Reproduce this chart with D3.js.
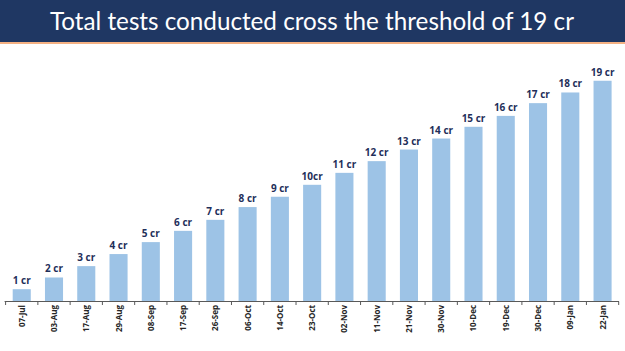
<!DOCTYPE html>
<html lang="en">
<head>
    <meta charset="UTF-8">
    <title>Total tests conducted</title>
    <script src="https://d3js.org/d3.v7.min.js"></script>
    <style>
        body { margin: 0; background: #fff; }
    </style>
</head>
<body>
    <svg id="chart" width="625" height="351"></svg>
    <script>
        const dates = ["07-Jul", "03-Aug", "17-Aug", "29-Aug", "08-Sep", "17-Sep", "26-Sep", "06-Oct", "14-Oct", "23-Oct",
                       "02-Nov", "11-Nov", "21-Nov", "30-Nov", "10-Dec", "19-Dec", "30-Dec", "09-Jan", "22-Jan"];
        const tests = [1.06, 2.07, 3.05, 4.09, 5.12, 6.09, 7.04, 8.14, 9.03, 10.06,
                       11.09, 12.1, 13.1, 14.05, 15.06, 16.0, 17.1, 18.02, 19.03];
        const labels = ["1 cr", "2 cr", "3 cr", "4 cr", "5 cr", "6 cr", "7 cr", "8 cr", "9 cr", "10cr",
                        "11 cr", "12 cr", "13 cr", "14 cr", "15 cr", "16 cr", "17 cr", "18 cr", "19 cr"];
        const title = "Total tests conducted cross the threshold of 19 cr";

        const svg = d3.select("#chart");
        const width = +svg.attr("width");

        // header band
        svg.append("rect")
            .attr("x", 0).attr("y", 0)
            .attr("width", width).attr("height", 42)
            .attr("fill", "#1f3763");
        svg.append("rect")
            .attr("x", 0).attr("y", 42)
            .attr("width", width).attr("height", 2)
            .attr("fill", "#f4b183");

        const t = svg.append("text")
            .attr("x", 312)
            .attr("y", 30)
            .attr("text-anchor", "middle")
            .attr("fill", "#ffffff")
            .style("font-family", "Lato, 'Open Sans', sans-serif")
            .style("font-size", "26px")
            .text(title);
        // fit title to the width seen in the slide
        const tw = t.node().getComputedTextLength();
        t.style("font-size", (26 * 524 / tw).toFixed(2) + "px");

        const data = dates.map((d, i) => ({date: d, value: tests[i], label: labels[i]}));

        const x = d3.scaleBand()
            .domain(dates)
            .range([5.6, 618.7])
            .paddingInner(0.44)
            .paddingOuter(0.22);

        const y = d3.scaleLinear()
            .domain([0, 19])
            .range([301.5, 81.1]);

        svg.append("g")
            .selectAll("rect")
            .data(data)
            .join("rect")
                .attr("x", d => x(d.date))
                .attr("y", d => y(d.value))
                .attr("width", x.bandwidth())
                .attr("height", d => y(0) - y(d.value))
                .attr("fill", "#9dc3e6");

        svg.append("g")
            .selectAll("text")
            .data(data)
            .join("text")
                .attr("x", d => x(d.date) + x.bandwidth() / 2)
                .attr("y", d => y(d.value) - 5)
                .attr("text-anchor", "middle")
                .attr("fill", "#1f2f5a")
                .style("font-family", "'Open Sans', sans-serif")
                .style("font-weight", "bold")
                .style("font-size", "10px")
                .text(d => d.label);

        // axis line and ticks between categories
        const axis = svg.append("g");
        axis.append("line")
            .attr("x1", 4.6).attr("x2", 619)
            .attr("y1", 301.5).attr("y2", 301.5)
            .attr("stroke", "#595959")
            .attr("stroke-width", 1.2);
        const step = x.step();
        const edges = d3.range(dates.length + 1).map(i => x(dates[0]) - x.paddingOuter() * step + i * step);
        axis.selectAll(".tick")
            .data(edges)
            .join("line")
                .attr("x1", d => d).attr("x2", d => d)
                .attr("y1", 301.5).attr("y2", 305)
                .attr("stroke", "#595959")
                .attr("stroke-width", 1);

        axis.selectAll(".lbl")
            .data(dates)
            .join("text")
                .attr("transform", d => `translate(${x(d) + x.bandwidth() / 2 + 3},305) rotate(-90)`)
                .attr("text-anchor", "end")
                .attr("fill", "#262626")
                .style("font-family", "'Open Sans', sans-serif")
                .style("font-weight", "bold")
                .style("font-size", "8px")
                .text(d => d);
    </script>
</body>
</html>
